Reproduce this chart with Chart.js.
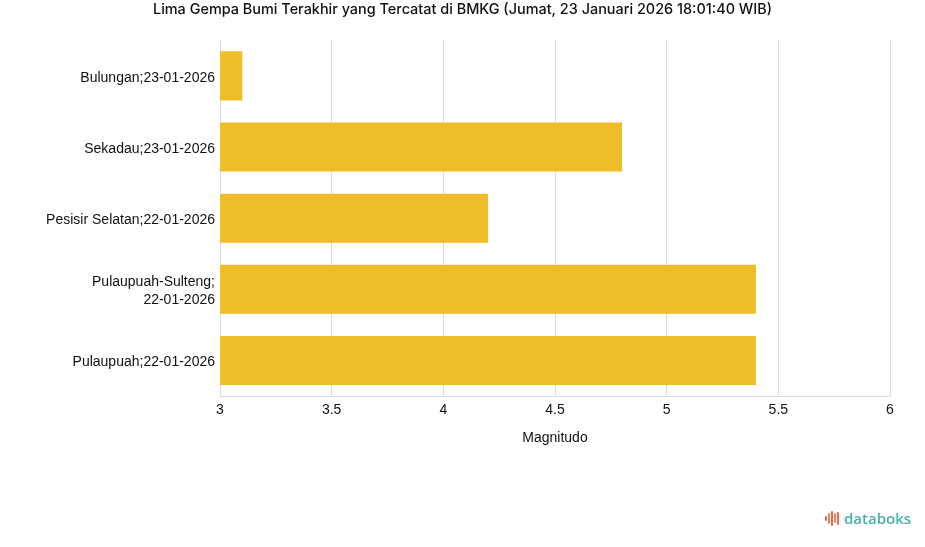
<!DOCTYPE html>
<html>
<head>
<meta charset="utf-8">
<script src="https://cdn.jsdelivr.net/npm/chart.js@4"></script>
<style>
  html, body { margin: 0; padding: 0; background: #fff; }
  #wrap { position: relative; width: 925px; height: 547px; }
  #logo { position: absolute; left: 825px; top: 507px; height: 22px; display: flex; align-items: center; font-family: "Open Sans", "Noto Sans", sans-serif; font-size: 15px; font-weight: 600; color: #45b2aa; }
  #logo .ic { display: inline-flex; align-items: center; height: 16px; margin-right: 5px; gap: 1px; }
  #logo .ic span { display: inline-block; width: 2px; background: #ee6651; border-radius: 1px; }
</style>
</head>
<body>
<div id="wrap">
  <canvas id="c" width="925" height="547"></canvas>
  <div id="logo"><span class="ic"><span style="height:5px"></span><span style="height:11px;background:#f08a4b"></span><span style="height:15px"></span><span style="height:10px;background:#f08a4b"></span><span style="height:13px"></span></span>databoks</div>
</div>
<script>
const titleText = "Lima Gempa Bumi Terakhir yang Tercatat di BMKG (Jumat, 23 Januari 2026 18:01:40 WIB)";
const categories = [
  "Bulungan;23-01-2026",
  "Sekadau;23-01-2026",
  "Pesisir Selatan;22-01-2026",
  ["Pulaupuah-Sulteng;", "22-01-2026"],
  "Pulaupuah;22-01-2026"
];
const magnitudes = [3.1, 4.8, 4.2, 5.4, 5.4];
const axisTitle = "Magnitudo";

new Chart(document.getElementById('c'), {
  type: 'bar',
  data: {
    labels: categories,
    datasets: [{
      data: magnitudes,
      backgroundColor: '#EFBD2A',
      borderWidth: 0,
      categoryPercentage: 1,
      barPercentage: 0.69
    }]
  },
  options: {
    indexAxis: 'y',
    responsive: false,
    animation: false,
    layout: { padding: { left: 35, right: 35, top: 0, bottom: 91 } },
    plugins: {
      legend: { display: false },
      tooltip: { enabled: false },
      title: {
        display: true,
        text: titleText,
        color: '#111',
        font: { family: 'Inter', size: 14.45, weight: 500, lineHeight: 1.2 },
        padding: { top: 1, bottom: 22 }
      }
    },
    scales: {
      x: {
        min: 3, max: 6,
        ticks: { stepSize: 0.5, color: '#111', padding: 6, font: { family: 'Liberation Sans', size: 14 },
                 callback: v => String(v) },
        grid: { color: '#dddddd', drawTicks: false },
        border: { color: '#dddddd' },
        title: { display: true, text: axisTitle, color: '#111', font: { family: 'Liberation Sans', size: 14, lineHeight: 1.2 }, padding: { top: 0, bottom: 9 } },
        afterFit: s => { s.height = 60; }
      },
      y: {
        ticks: { color: '#111', padding: 5, labelOffset: 2, font: { family: 'Liberation Sans', size: 14, lineHeight: 1.3 } },
        grid: { display: false, drawTicks: false },
        border: { display: false },
        afterFit: s => { s.width = 185; }
      }
    }
  }
});
</script>
</body>
</html>
